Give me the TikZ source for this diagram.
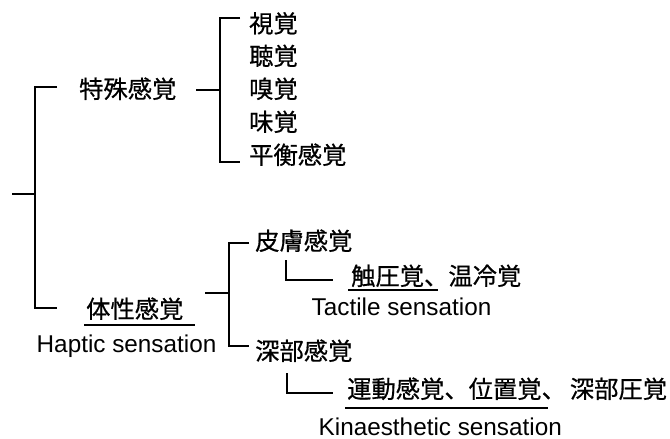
\documentclass[tikz,border=0pt]{standalone}
\usepackage{fontspec}
\setmainfont{Liberation Sans}
\newfontfamily\jp[FakeBold=0.6]{Noto Sans CJK JP}
\begin{document}
\begin{tikzpicture}[x=1pt,y=-1pt,
  ln/.style={line width=1.9pt},
  ul/.style={line width=1.4pt},
  jt/.style={inner sep=0pt, anchor=base west, font=\jp\fontsize{24.3}{24}\selectfont},
  et/.style={inner sep=0pt, anchor=base west, font=\fontsize{24.3}{24}\selectfont}]
\useasboundingbox (0,0) rectangle (670,439);
% text nodes
\node[jt] (tokushu) at (79,98) {特殊感覚};
\node[jt] (shi) at (249,32.5) {視覚};
\node[jt] (cho) at (249,65) {聴覚};
\node[jt] (kyu) at (249,98) {嗅覚};
\node[jt] (mi) at (249,131) {味覚};
\node[jt] (heiko) at (249,164) {平衡感覚};
\node[jt] (taisei) at (86,318) {体性感覚};
\node[et] (haptic) at (36.5,352) {Haptic sensation};
\node[jt] (hifu) at (255,250) {皮膚感覚};
\node[jt] (shokuatsu) at (351,285) {触圧覚、温冷覚};
\node[et] (tactile) at (311.5,315) {Tactile sensation};
\node[jt] (shinbu) at (255,360) {深部感覚};
\node[jt] (undo) at (347,398) {運動感覚、位置覚、\hspace{4pt}深部圧覚};
\node[et] (kin) at (318.5,435.5) {Kinaesthetic sensation};
% coordinates
\coordinate (rootL) at (12,194);
\coordinate (rootJ) at (35,194);
\coordinate (rTop) at (35,87);
\coordinate (rBot) at (35,308);
\coordinate (rTopE) at (57,87);
\coordinate (rBotE) at (57,308);
\coordinate (aS) at (196,90);
\coordinate (aJ) at (220,90);
\coordinate (aTop) at (220,18);
\coordinate (aBot) at (220,162);
\coordinate (aTopE) at (240,18);
\coordinate (aBotE) at (240,162);
\coordinate (bS) at (205,293);
\coordinate (bJ) at (229,293);
\coordinate (bTop) at (229,243);
\coordinate (bBot) at (229,346);
\coordinate (bTopE) at (249,243);
\coordinate (bBotE) at (249,346);
\coordinate (cTop) at (286,260);
\coordinate (cCorner) at (286,280);
\coordinate (cEnd) at (333,280);
\coordinate (dTop) at (287,373);
\coordinate (dCorner) at (287,393);
\coordinate (dEnd) at (333,393);
% connectors
\draw[ln] (rootL) -- (rootJ);
\draw[ln] (rTopE) -- (rTop) -- (rBot) -- (rBotE);
\draw[ln] (aS) -- (aJ);
\draw[ln] (aTopE) -- (aTop) -- (aBot) -- (aBotE);
\draw[ln] (bS) -- (bJ);
\draw[ln] (bTopE) -- (bTop) -- (bBot) -- (bBotE);
\draw[ln] (cTop) -- (cCorner) -- (cEnd);
\draw[ln] (dTop) -- (dCorner) -- (dEnd);
% underlines
\draw[ul] (84,325) -- (195,325);
\draw[ul] (348,290) -- (438,290);
\draw[ul] (345,408) -- (548,408);
\end{tikzpicture}
\end{document}
